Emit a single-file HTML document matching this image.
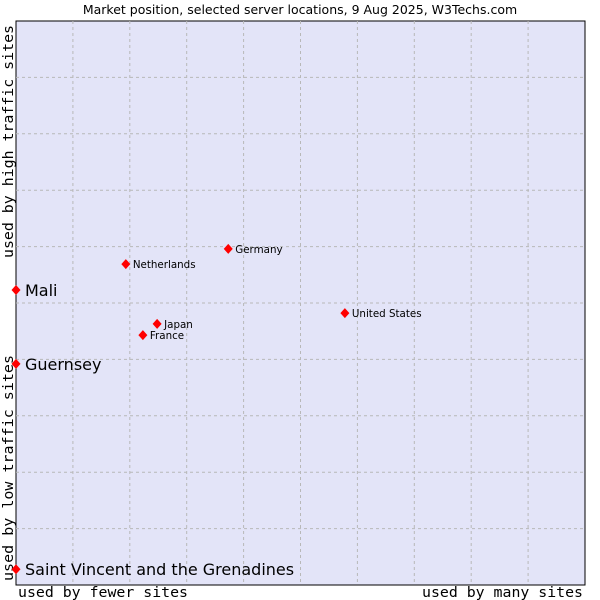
<!DOCTYPE html>
<html><head><meta charset="utf-8"><style>
body{margin:0;background:#fff;width:600px;height:600px;overflow:hidden}
svg{display:block}
</style></head><body>
<svg id="chart" width="600" height="600" xmlns="http://www.w3.org/2000/svg">
<text x="300" y="14" text-anchor="middle" font-family="DejaVu Sans, Liberation Sans, sans-serif" font-size="12.5" fill="#000">Market position, selected server locations, 9 Aug 2025, W3Techs.com</text>
<rect x="16" y="21" width="569" height="564" fill="#e3e4f8" stroke="#000" stroke-width="1"/>
<g id="grid"></g>
<text transform="translate(13,258) rotate(-90)" textLength="233" lengthAdjust="spacingAndGlyphs" font-family="DejaVu Sans Mono, Liberation Mono, monospace" font-size="14.5">used by high traffic sites</text>
<text transform="translate(13,581) rotate(-90)" textLength="226" lengthAdjust="spacingAndGlyphs" font-family="DejaVu Sans Mono, Liberation Mono, monospace" font-size="14.5">used by low traffic sites</text>
<text x="18" y="597" textLength="170" lengthAdjust="spacingAndGlyphs" font-family="DejaVu Sans Mono, Liberation Mono, monospace" font-size="14.5">used by fewer sites</text>
<text x="422" y="597" textLength="161" lengthAdjust="spacingAndGlyphs" font-family="DejaVu Sans Mono, Liberation Mono, monospace" font-size="14.5">used by many sites</text>
<g id="points"></g>
</svg>
<script>
const names = ["Mali","Guernsey","Saint Vincent and the Grenadines","Netherlands","Germany","United States","Japan","France"];
const xVals = [0,0,0,19.3,37.3,57.8,24.8,22.3];
const yVals = [52.3,39.2,2.8,56.9,59.6,48.2,46.3,44.3];
const big = [true,true,true,false,false,false,false,false];
const NS="http://www.w3.org/2000/svg";
const L=16,R=585,T=21,B=585;
function sx(v){return L+v/100*(R-L);}
function sy(v){return B-v/100*(B-T);}
const grid=document.getElementById('grid');
for(let i=1;i<10;i++){
  const x=L+i*(R-L)/10, y=T+i*(B-T)/10;
  const v=document.createElementNS(NS,'line');
  v.setAttribute('x1',x);v.setAttribute('x2',x);v.setAttribute('y1',T);v.setAttribute('y2',B);
  v.setAttribute('stroke','#b8b8b8');v.setAttribute('stroke-dasharray','3,3');
  
  
  grid.appendChild(v);
  const h=document.createElementNS(NS,'line');
  h.setAttribute('x1',L);h.setAttribute('x2',R);h.setAttribute('y1',y);h.setAttribute('y2',y);
  h.setAttribute('stroke','#b8b8b8');h.setAttribute('stroke-dasharray','3,3');
  
  
  grid.appendChild(h);
}
const pts=document.getElementById('points');
names.forEach((n,i)=>{
  const x=sx(xVals[i]), y=sy(yVals[i]);
  const d=document.createElementNS(NS,'polygon');
  d.setAttribute('points',`${x},${y-5} ${x+4.5},${y} ${x},${y+5} ${x-4.5},${y}`);
  d.setAttribute('fill','#f00');
  
  
  pts.appendChild(d);
  const t=document.createElementNS(NS,'text');
  t.setAttribute('x',x+(big[i]?9:7));
  t.setAttribute('y',y+(big[i]?6:4));
  t.setAttribute('font-family','DejaVu Sans, Liberation Sans, sans-serif');
  t.setAttribute('font-size',big[i]?16:10.3);
  t.setAttribute('fill','#000');
  t.textContent=n;
  
  
  pts.appendChild(t);
});
</script>
</body></html>
